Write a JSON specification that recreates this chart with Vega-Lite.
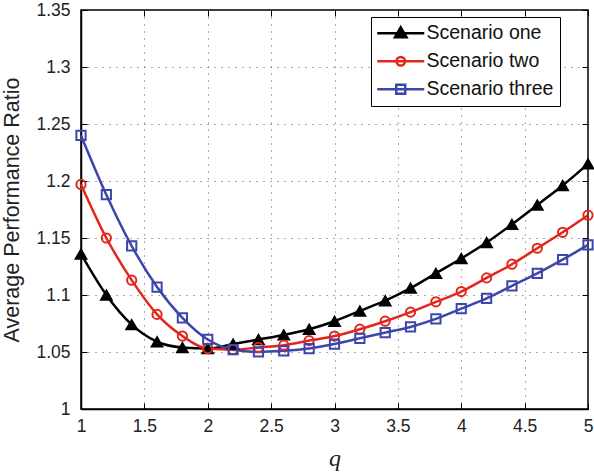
{
  "$schema": "https://vega.github.io/schema/vega-lite/v6.json",
  "width": 507,
  "height": 399,
  "autosize": {"type": "none"},
  "padding": {"left": 81, "top": 10, "right": 6, "bottom": 66},
  "background": "white",
  "config": {
    "view": {"stroke": "#000000", "strokeWidth": 1.5},
    "font": "Liberation Sans",
    "axis": {
      "labelFont": "Liberation Sans",
      "labelFontSize": 17.5,
      "labelColor": "#222222",
      "domainColor": "#000000",
      "domainWidth": 1.5,
      "tickColor": "#000000",
      "tickWidth": 1,
      "tickSize": -6,
      "gridColor": "#555555",
      "gridDash": [1, 6],
      "gridWidth": 1
    }
  },
  "data": {
    "values": [
      {"q": 1.0, "s": "Scenario one", "v": 1.136},
      {"q": 1.2, "s": "Scenario one", "v": 1.100},
      {"q": 1.4, "s": "Scenario one", "v": 1.074},
      {"q": 1.6, "s": "Scenario one", "v": 1.059},
      {"q": 1.8, "s": "Scenario one", "v": 1.054},
      {"q": 2.0, "s": "Scenario one", "v": 1.053},
      {"q": 2.2, "s": "Scenario one", "v": 1.057},
      {"q": 2.4, "s": "Scenario one", "v": 1.061},
      {"q": 2.6, "s": "Scenario one", "v": 1.065},
      {"q": 2.8, "s": "Scenario one", "v": 1.070},
      {"q": 3.0, "s": "Scenario one", "v": 1.077},
      {"q": 3.2, "s": "Scenario one", "v": 1.086},
      {"q": 3.4, "s": "Scenario one", "v": 1.095},
      {"q": 3.6, "s": "Scenario one", "v": 1.106},
      {"q": 3.8, "s": "Scenario one", "v": 1.119},
      {"q": 4.0, "s": "Scenario one", "v": 1.132},
      {"q": 4.2, "s": "Scenario one", "v": 1.146},
      {"q": 4.4, "s": "Scenario one", "v": 1.162},
      {"q": 4.6, "s": "Scenario one", "v": 1.179},
      {"q": 4.8, "s": "Scenario one", "v": 1.196},
      {"q": 5.0, "s": "Scenario one", "v": 1.215},
      {"q": 1.0, "s": "Scenario two", "v": 1.197},
      {"q": 1.2, "s": "Scenario two", "v": 1.150},
      {"q": 1.4, "s": "Scenario two", "v": 1.113},
      {"q": 1.6, "s": "Scenario two", "v": 1.083},
      {"q": 1.8, "s": "Scenario two", "v": 1.064},
      {"q": 2.0, "s": "Scenario two", "v": 1.053},
      {"q": 2.2, "s": "Scenario two", "v": 1.052},
      {"q": 2.4, "s": "Scenario two", "v": 1.054},
      {"q": 2.6, "s": "Scenario two", "v": 1.056},
      {"q": 2.8, "s": "Scenario two", "v": 1.060},
      {"q": 3.0, "s": "Scenario two", "v": 1.064},
      {"q": 3.2, "s": "Scenario two", "v": 1.070},
      {"q": 3.4, "s": "Scenario two", "v": 1.077},
      {"q": 3.6, "s": "Scenario two", "v": 1.085},
      {"q": 3.8, "s": "Scenario two", "v": 1.094},
      {"q": 4.0, "s": "Scenario two", "v": 1.103},
      {"q": 4.2, "s": "Scenario two", "v": 1.115},
      {"q": 4.4, "s": "Scenario two", "v": 1.127},
      {"q": 4.6, "s": "Scenario two", "v": 1.141},
      {"q": 4.8, "s": "Scenario two", "v": 1.155},
      {"q": 5.0, "s": "Scenario two", "v": 1.170},
      {"q": 1.0, "s": "Scenario three", "v": 1.240},
      {"q": 1.2, "s": "Scenario three", "v": 1.188},
      {"q": 1.4, "s": "Scenario three", "v": 1.143},
      {"q": 1.6, "s": "Scenario three", "v": 1.107},
      {"q": 1.8, "s": "Scenario three", "v": 1.080},
      {"q": 2.0, "s": "Scenario three", "v": 1.061},
      {"q": 2.2, "s": "Scenario three", "v": 1.052},
      {"q": 2.4, "s": "Scenario three", "v": 1.050},
      {"q": 2.6, "s": "Scenario three", "v": 1.051},
      {"q": 2.8, "s": "Scenario three", "v": 1.053},
      {"q": 3.0, "s": "Scenario three", "v": 1.057},
      {"q": 3.2, "s": "Scenario three", "v": 1.062},
      {"q": 3.4, "s": "Scenario three", "v": 1.067},
      {"q": 3.6, "s": "Scenario three", "v": 1.072},
      {"q": 3.8, "s": "Scenario three", "v": 1.079},
      {"q": 4.0, "s": "Scenario three", "v": 1.088},
      {"q": 4.2, "s": "Scenario three", "v": 1.097},
      {"q": 4.4, "s": "Scenario three", "v": 1.108},
      {"q": 4.6, "s": "Scenario three", "v": 1.119},
      {"q": 4.8, "s": "Scenario three", "v": 1.131},
      {"q": 5.0, "s": "Scenario three", "v": 1.144}
    ]
  },
  "resolve": {"axis": {"x": "independent", "y": "independent"}},
  "layer": [
    {
      "mark": {"type": "line", "interpolate": "monotone", "strokeWidth": 2.5},
      "encoding": {
        "x": {
          "field": "q", "type": "quantitative",
          "scale": {"domain": [1, 5], "nice": false, "zero": false},
          "axis": {
            "values": [1, 1.5, 2, 2.5, 3, 3.5, 4, 4.5, 5], "format": "~g",
            "grid": true, "labelPadding": 14, "labelFlush": false,
            "title": "q", "titleFont": "Liberation Serif", "titleFontStyle": "italic",
            "titleFontWeight": "normal", "titleFontSize": 24, "titleColor": "#222222", "titlePadding": 12
          }
        },
        "y": {
          "field": "v", "type": "quantitative",
          "scale": {"domain": [1, 1.35], "nice": false, "zero": false},
          "axis": {
            "values": [1, 1.05, 1.1, 1.15, 1.2, 1.25, 1.3, 1.35], "format": "~g",
            "grid": true, "labelPadding": 17, "labelFlush": false,
            "title": "Average Performance Ratio", "titleFontSize": 21.5, "titleFontWeight": "normal",
            "titleColor": "#222222", "titlePadding": 12
          }
        },
        "stroke": {
          "field": "s", "type": "nominal",
          "scale": {"domain": ["Scenario one", "Scenario two", "Scenario three"], "range": ["#000000", "#e2261c", "#3c45a9"]}
        },
        "detail": {"field": "s"}
      }
    },
    {
      "transform": [{"filter": "datum.s === 'Scenario one'"}],
      "mark": {"type": "point", "shape": "triangle-up", "size": 130, "filled": true, "fill": "#000000", "strokeWidth": 1.5, "opacity": 1},
      "encoding": {
        "x": {"field": "q", "type": "quantitative", "axis": {"orient": "top", "labels": false, "grid": false, "title": null, "domain": false, "values": [1, 1.5, 2, 2.5, 3, 3.5, 4, 4.5, 5]}},
        "y": {"field": "v", "type": "quantitative", "axis": {"orient": "right", "labels": false, "grid": false, "title": null, "domain": false, "values": [1, 1.05, 1.1, 1.15, 1.2, 1.25, 1.3, 1.35]}},
        "stroke": {"field": "s", "type": "nominal"}
      }
    },
    {
      "transform": [{"filter": "datum.s === 'Scenario two'"}],
      "mark": {"type": "point", "shape": "circle", "size": 85, "filled": false, "strokeWidth": 2, "opacity": 1},
      "encoding": {
        "x": {"field": "q", "type": "quantitative", "axis": null},
        "y": {"field": "v", "type": "quantitative", "axis": null},
        "stroke": {"field": "s", "type": "nominal"}
      }
    },
    {
      "transform": [{"filter": "datum.s === 'Scenario three'"}],
      "mark": {"type": "point", "shape": "square", "size": 85, "filled": false, "strokeWidth": 2, "opacity": 1},
      "encoding": {
        "x": {"field": "q", "type": "quantitative", "axis": null},
        "y": {"field": "v", "type": "quantitative", "axis": null},
        "stroke": {"field": "s", "type": "nominal"}
      }
    },
    {
      "mark": {"type": "point", "size": 100, "opacity": 0, "strokeWidth": 2.4},
      "encoding": {
        "x": {"field": "q", "type": "quantitative", "axis": null},
        "y": {"field": "v", "type": "quantitative", "axis": null},
        "stroke": {"field": "s", "type": "nominal"},
        "fill": {
          "field": "s", "type": "nominal",
          "scale": {"domain": ["Scenario one", "Scenario two", "Scenario three"], "range": ["#000000", "transparent", "transparent"]}
        },
        "shape": {
          "field": "s", "type": "nominal",
          "scale": {
            "domain": ["Scenario one", "Scenario two", "Scenario three"],
            "range": [
              "M-4.7,0H4.7M0,-1.2L1.17,0.8L-1.17,0.8Z",
              "M-4.7,0H4.7M0.86,0A0.86,0.86 0 1 1 -0.86,0A0.86,0.86 0 1 1 0.86,0Z",
              "M-4.7,0H4.7M-0.9,-0.9H0.9V0.9H-0.9Z"
            ]
          },
          "legend": {
            "title": null,
            "orient": "none",
            "legendX": 290,
            "legendY": 7,
            "fillColor": "#ffffff",
            "strokeColor": "#000000",
            "padding": 6.5,
            "cornerRadius": 0,
            "symbolSize": 100,
            "symbolStrokeWidth": 2.4,
            "symbolOpacity": 1,
            "symbolOffset": 13.5,
            "labelOffset": 16,
            "labelFont": "Liberation Sans",
            "labelFontSize": 19.5,
            "labelColor": "#111111",
            "labelLimit": 300,
            "rowPadding": 7
          }
        }
      }
    }
  ]
}
